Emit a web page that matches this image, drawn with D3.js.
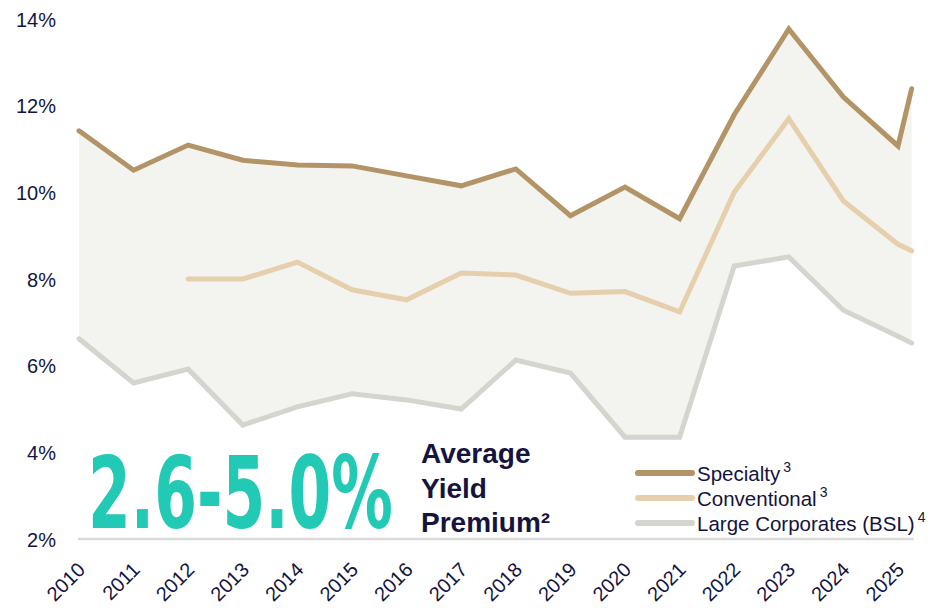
<!DOCTYPE html>
<html>
<head>
<meta charset="utf-8">
<script src="https://cdn.jsdelivr.net/npm/d3@7"></script>
<style>
  body { margin: 0; background: #fff; }
  #chart text { font-family: "Liberation Sans", Arial, sans-serif; fill: #14143e; }
</style>
</head>
<body>
<div id="chart"></div>
<script>
// periods: one point per year, plus the latest reading just after 2025
const periods = [2010, 2011, 2012, 2013, 2014, 2015, 2016, 2017, 2018, 2019, 2020, 2021, 2022, 2023, 2024, 2025, 2025.25];
const yearTicks = [2010, 2011, 2012, 2013, 2014, 2015, 2016, 2017, 2018, 2019, 2020, 2021, 2022, 2023, 2024, 2025];
const yTicks = [2, 4, 6, 8, 10, 12, 14];

const specialty = [11.42, 10.51, 11.09, 10.74, 10.63, 10.61, 10.38, 10.15, 10.54, 9.46, 10.12, 9.39, 11.79, 13.77, 12.2, 11.07, 12.39];
const conventional = [null, null, 8.0, 8.0, 8.39, 7.75, 7.52, 8.14, 8.09, 7.67, 7.71, 7.24, 10.0, 11.7, 9.8, 8.8, 8.65];
const largeCorp = [6.62, 5.6, 5.92, 4.63, 5.05, 5.35, 5.21, 5.0, 6.13, 5.83, 4.35, 4.35, 8.3, 8.51, 7.28, 6.68, 6.52];

const seriesNames = ["Specialty", "Conventional", "Large Corporates (BSL)"];
const seriesNotes = ["3", "3", "4"];
const seriesColors = ["#b39467", "#e6cfad", "#d5d4cf"];

const premiumRange = "2.6-5.0%";
const premiumLines = ["Average", "Yield", "Premium\u00b2"];

var width = 936;
var height = 608;

var svg = d3.select("#chart")
    .append("svg")
    .attr("width", width)
    .attr("height", height);

var x = d3.scaleLinear().domain([2010, 2025]).range([79, 898]);
var y = d3.scaleLinear().domain([2, 14]).range([539, 19]);

var idx = d3.range(periods.length);

// shaded band between specialty and large corporates
var band = d3.area()
    .x(i => x(periods[i]))
    .y0(i => y(largeCorp[i]))
    .y1(i => y(specialty[i]));

svg.append("path")
    .datum(idx)
    .attr("d", band)
    .attr("fill", "#f3f3ef");

// bottom rule
svg.append("line")
    .attr("x1", x(2010) - 1)
    .attr("x2", x(periods[periods.length - 1]) + 2)
    .attr("y1", y(2))
    .attr("y2", y(2))
    .attr("stroke", "#dadada")
    .attr("stroke-width", 2.5);

var series = [largeCorp, conventional, specialty];
var colors = [seriesColors[2], seriesColors[1], seriesColors[0]];

series.forEach((vals, k) => {
    var line = d3.line()
        .defined(i => vals[i] != null)
        .x(i => x(periods[i]))
        .y(i => y(vals[i]));
    svg.append("path")
        .datum(idx)
        .attr("d", line)
        .attr("fill", "none")
        .attr("stroke", colors[k])
        .attr("stroke-width", 5)
        .attr("stroke-linecap", "round")
        .attr("stroke-linejoin", "miter");
});

// y axis
var yAxis = svg.append("g")
    .attr("transform", "translate(56,0)")
    .call(d3.axisLeft(y).tickValues(yTicks).tickSize(0).tickPadding(0).tickFormat(d => d + "%"));
yAxis.select(".domain").remove();
yAxis.selectAll("text")
    .attr("font-size", 20)
    .attr("dy", "0.35em");

// x axis, rotated labels
var xAxis = svg.append("g")
    .attr("transform", "translate(0,566)")
    .call(d3.axisBottom(x).tickValues(yearTicks).tickSize(0).tickFormat(d3.format("d")));
xAxis.select(".domain").remove();
xAxis.selectAll("text")
    .attr("font-size", 20)
    .attr("x", 0)
    .attr("y", 0)
    .attr("dy", "0.35em")
    .attr("text-anchor", "end")
    .attr("transform", "translate(2,0) rotate(-45)");

// big callout, squeezed horizontally to look condensed
var big = svg.append("text")
    .attr("x", 0)
    .attr("y", 0)
    .style("font-family", "'DejaVu Sans Condensed', 'DejaVu Sans', sans-serif")
    .style("font-weight", "bold")
    .style("font-size", "100px")
    .style("fill", "#22c9b5")
    .text(premiumRange);
var bigW = big.node().getComputedTextLength();
big.attr("transform", "translate(88,528) scale(" + (305 / bigW) + ",1)");

svg.append("g")
    .selectAll("text")
    .data(premiumLines)
    .enter().append("text")
    .attr("x", 421)
    .attr("y", (d, i) => 463 + i * 34.5)
    .attr("font-size", 28)
    .attr("font-weight", "bold")
    .text(d => d);

// legend
var legend = svg.append("g")
    .selectAll("g")
    .data(seriesNames)
    .enter().append("g")
    .attr("transform", (d, i) => "translate(638," + (473 + i * 25) + ")");

legend.append("line")
    .attr("x1", 0)
    .attr("x2", 54)
    .attr("stroke", (d, i) => seriesColors[i])
    .attr("stroke-width", 6)
    .attr("stroke-linecap", "round");

var lt = legend.append("text")
    .attr("x", 59)
    .attr("y", 8)
    .attr("font-size", 20.5);
lt.append("tspan").text(d => d);
lt.append("tspan")
    .attr("dx", 3)
    .attr("dy", -9)
    .attr("font-size", 14)
    .text((d, i) => seriesNotes[i]);
</script>
</body>
</html>
